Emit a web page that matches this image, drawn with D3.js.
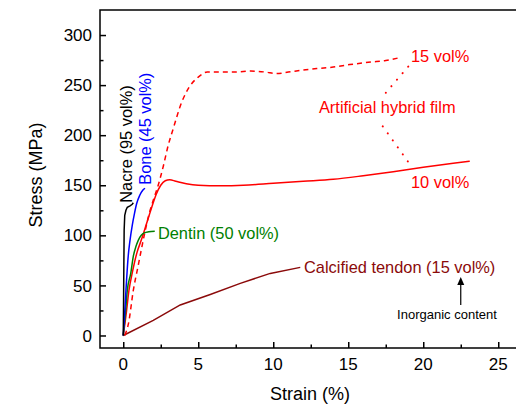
<!DOCTYPE html>
<html lang="en">
<head>
<meta charset="UTF-8">
<title>Stress-strain</title>
<script src="https://cdnjs.cloudflare.com/ajax/libs/d3/7.8.5/d3.min.js"></script>
<style>
  body { margin: 0; background: #fff; }
  svg { display: block; font-family: "Liberation Sans", Arial, sans-serif; }
</style>
</head>
<body>
<svg id="chart" width="516" height="404"></svg>
<script>
// strain (%) / stress (MPa)
var nacre = [[0,0],[0.02,30],[0.04,70],[0.06,105],[0.1,120],[0.18,125],[0.27,128],[0.45,129.5],[0.6,131],[0.67,132.5]];
var bone = [[0,0],[0.07,15.5],[0.18,45],[0.33,79],[0.45,95],[0.6,110],[0.75,122],[0.9,132],[1.1,140],[1.3,145],[1.45,147]];
var dentin = [[0,0],[0.1,15],[0.18,29],[0.27,45],[0.5,62],[0.67,79],[0.85,89],[1.0,95],[1.2,100],[1.4,102.5],[1.7,103.5],[2.1,104]];
var film10 = [[0,0],[0.2,22],[0.38,45],[0.6,62.5],[0.9,82],[1.22,96],[1.56,112],[1.9,128],[2.2,141],[2.5,150],[2.8,154.5],[3.1,155.5],[3.5,154],[4.2,151.5],[5,150],[6.5,149.5],[8,150],[10,152],[12,154],[14,156],[16,159.5],[18,163.5],[20,168],[22,172],[23.1,174]];
var film15 = [[0.1,0],[0.35,12],[0.67,45],[1.0,70],[1.33,95],[1.7,120],[2.0,135],[2.33,150],[2.67,169],[3.0,190],[3.3,205],[3.9,233],[4.4,248],[5.0,258],[5.6,263],[6.5,263],[7.5,263],[8.5,264],[9.5,263],[10.2,261.5],[11,263],[12,265],[12.9,266.5],[14,268],[15.1,270.5],[16.5,273],[17.5,274.5],[18.3,277]];
var tendon = [[0,0],[2,15],[3.8,30.5],[5.8,41],[7.8,52],[9.8,62],[11.8,68]];

var xTicks = [0, 5, 10, 15, 20, 25];
var yTicks = [0, 50, 100, 150, 200, 250, 300];

var x = d3.scaleLinear().domain([-1.55, 26.5]).range([100, 520.75]);
var y = d3.scaleLinear().domain([-12.5, 325]).range([348, 10]);

var svg = d3.select("#chart");
var line = d3.line().x(function (d) { return x(d[0]); }).y(function (d) { return y(d[1]); }).curve(d3.curveMonotoneX);
var lineL = d3.line().x(function (d) { return x(d[0]); }).y(function (d) { return y(d[1]); });

// frame
svg.append("rect")
  .attr("x", x.range()[0]).attr("y", y.range()[1])
  .attr("width", x.range()[1] - x.range()[0]).attr("height", y.range()[0] - y.range()[1])
  .attr("fill", "none").attr("stroke", "#000").attr("stroke-width", 1.5);

// ticks (inside)
var xMinor = d3.range(0, 26, 2.5).filter(function (v) { return v % 5 !== 0; });
var yMinor = d3.range(0, 325, 25).filter(function (v) { return v % 50 !== 0; });

svg.append("g").attr("transform", "translate(0," + y.range()[0] + ")")
  .call(d3.axisTop(x).tickValues(xTicks).tickSize(6).tickFormat(""));
svg.append("g").attr("transform", "translate(0," + y.range()[0] + ")")
  .call(d3.axisTop(x).tickValues(xMinor).tickSize(3.5).tickFormat(""));
svg.append("g").attr("transform", "translate(" + x.range()[0] + ",0)")
  .call(d3.axisRight(y).tickValues(yTicks).tickSize(6).tickFormat(""));
svg.append("g").attr("transform", "translate(" + x.range()[0] + ",0)")
  .call(d3.axisRight(y).tickValues(yMinor).tickSize(3.5).tickFormat(""));
svg.selectAll(".domain").remove();
svg.selectAll(".tick line").attr("stroke", "#000").attr("stroke-width", 1.5);

// tick labels
svg.append("g").selectAll("text").data(xTicks).enter().append("text")
  .attr("x", function (d) { return x(d); }).attr("y", 364).attr("dy", "0.36em")
  .attr("text-anchor", "middle").attr("font-size", 17).text(function (d) { return d; });
svg.append("g").selectAll("text").data(yTicks).enter().append("text")
  .attr("x", 92).attr("y", function (d) { return y(d); }).attr("dy", "0.36em")
  .attr("text-anchor", "end").attr("font-size", 17).text(function (d) { return d; });

// axis titles
svg.append("text").attr("x", 310).attr("y", 394).attr("dy", "0.36em")
  .attr("text-anchor", "middle").attr("font-size", 18).text("Strain (%)");
svg.append("text").attr("transform", "translate(36,175) rotate(-90)").attr("dy", "0.36em")
  .attr("text-anchor", "middle").attr("font-size", 18).text("Stress (MPa)");

// curves
var curves = [
  { data: tendon, color: "#8b0a0a", dash: null, gen: lineL },
  { data: film15, color: "#ff0000", dash: "5,4", gen: line },
  { data: film10, color: "#ff0000", dash: null, gen: line },
  { data: dentin, color: "#008000", dash: null, gen: line },
  { data: bone, color: "#0000ff", dash: null, gen: line },
  { data: nacre, color: "#000000", dash: null, gen: lineL }
];
curves.forEach(function (c) {
  svg.append("path").attr("d", c.gen(c.data))
    .attr("fill", "none").attr("stroke", c.color).attr("stroke-width", 1.5)
    .attr("stroke-dasharray", c.dash);
});

// annotations
var labels = [
  { t: "Dentin (50 vol%)", sx: 2.31, sy: 102.5, color: "#008000", size: 16.4, anchor: "start" },
  { t: "Calcified tendon (15 vol%)", sx: 12.05, sy: 68, color: "#8b0a0a", size: 16.4, anchor: "start" },
  { t: "15 vol%", sx: 19.18, sy: 278.5, color: "#ff0000", size: 16.4, anchor: "start" },
  { t: "Artificial hybrid film", sx: 17.6, sy: 227.8, color: "#ff0000", size: 16.4, anchor: "middle" },
  { t: "10 vol%", sx: 19.18, sy: 152.8, color: "#ff0000", size: 16.4, anchor: "start" },
  { t: "Inorganic content", sx: 21.58, sy: 21.5, color: "#000", size: 13, anchor: "middle" }
];
labels.forEach(function (l) {
  svg.append("text").attr("x", x(l.sx)).attr("y", y(l.sy)).attr("dy", "0.36em")
    .attr("text-anchor", l.anchor).attr("font-size", l.size).attr("fill", l.color).text(l.t);
});

var vlabels = [
  { t: "Nacre (95 vol%)", sx: 0.55, sy: 132.5, color: "#000" },
  { t: "Bone (45 vol%)", sx: 1.85, sy: 150.5, color: "#0000ff" }
];
vlabels.forEach(function (l) {
  svg.append("text").attr("transform", "translate(" + x(l.sx) + "," + y(l.sy) + ") rotate(-90)")
    .attr("font-size", 16.4).attr("fill", l.color).text(l.t);
});

// dotted leaders
var leaders = [
  [[19.0, 268.5], [17.3, 238.8]],
  [[17.3, 208.8], [19.05, 172.2]]
];
leaders.forEach(function (p) {
  svg.append("path").attr("d", lineL(p)).attr("fill", "none")
    .attr("stroke", "#ff0000").attr("stroke-width", 2)
    .attr("stroke-linecap", "round").attr("stroke-dasharray", "0.1,8.5");
});

// arrow
var arrow = [[22.5, 30.5], [22.5, 58.5]];
svg.append("line")
  .attr("x1", x(arrow[0][0])).attr("y1", y(arrow[0][1]))
  .attr("x2", x(arrow[1][0])).attr("y2", y(arrow[1][1]) + 6)
  .attr("stroke", "#000").attr("stroke-width", 1.2);
var ax = x(arrow[1][0]), ay = y(arrow[1][1]);
svg.append("path").attr("d", "M" + ax + "," + ay + "L" + (ax - 3.5) + "," + (ay + 8) + "L" + (ax + 3.5) + "," + (ay + 8) + "Z")
  .attr("fill", "#000");
</script>
</body>
</html>
